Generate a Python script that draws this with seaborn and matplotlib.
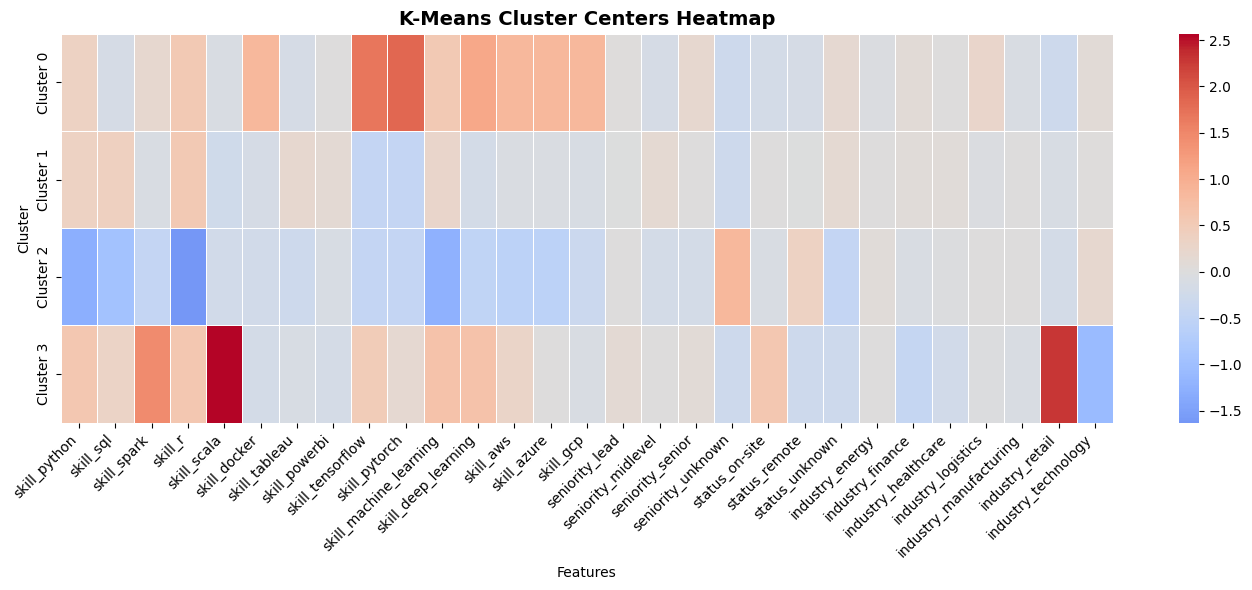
import numpy as np
import pandas as pd
import matplotlib
matplotlib.use('Agg')
import matplotlib.pyplot as plt
import seaborn as sns

# Feature names (columns of the cluster centers)
features = [
    'skill_python', 'skill_sql', 'skill_spark', 'skill_r', 'skill_scala',
    'skill_docker', 'skill_tableau', 'skill_powerbi', 'skill_tensorflow',
    'skill_pytorch', 'skill_machine_learning', 'skill_deep_learning',
    'skill_aws', 'skill_azure', 'skill_gcp', 'seniority_lead',
    'seniority_midlevel', 'seniority_senior', 'seniority_unknown',
    'status_on-site', 'status_remote', 'status_unknown', 'industry_energy',
    'industry_finance', 'industry_healthcare', 'industry_logistics',
    'industry_manufacturing', 'industry_retail', 'industry_technology',
]
clusters = ['Cluster 0', 'Cluster 1', 'Cluster 2', 'Cluster 3']

# Cluster centers
cluster0 = [0.35, -0.15, 0.20, 0.55, -0.10, 0.85, -0.15, 0.00, 1.70, 1.85,
            0.55, 1.10, 0.85, 0.85, 0.85, 0.03, -0.15, 0.18, -0.30, -0.20,
            -0.15, 0.17, -0.05, 0.10, 0.00, 0.25, -0.10, -0.30, 0.10]
cluster1 = [0.35, 0.40, -0.10, 0.55, -0.25, -0.15, 0.20, 0.13, -0.45, -0.45,
            0.25, -0.20, -0.07, -0.07, -0.12, -0.02, 0.15, 0.00, -0.30, 0.00,
            -0.02, 0.15, 0.00, 0.06, 0.06, -0.05, 0.01, -0.12, 0.04]
cluster2 = [-1.30, -0.95, -0.45, -1.63, -0.22, -0.22, -0.30, -0.12, -0.45, -0.45,
            -1.25, -0.50, -0.58, -0.58, -0.32, 0.00, -0.20, -0.20, 0.85, -0.10,
            0.35, -0.45, 0.07, -0.10, -0.03, 0.00, 0.01, -0.20, 0.20]
cluster3 = [0.60, 0.32, 1.45, 0.60, 2.57, -0.20, -0.12, -0.17, 0.50, 0.17,
            0.68, 0.68, 0.30, 0.00, -0.10, 0.13, 0.00, 0.10, -0.30, 0.60,
            -0.30, -0.30, 0.00, -0.42, -0.22, -0.03, -0.10, 2.30, -1.10]

centers = pd.DataFrame([cluster0, cluster1, cluster2, cluster3],
                       index=clusters, columns=features)

fig = plt.figure(figsize=(12.52, 5.9), dpi=100)
W, H = 1252, 590
ax = fig.add_axes([61 / W, (H - 422.7) / H, (1113 - 61) / W, (422.7 - 33.7) / H])
cax = fig.add_axes([1179 / W, (H - 422.7) / H, 20 / W, (422.7 - 33.7) / H])

sns.heatmap(centers, cmap='coolwarm', center=0, linewidths=0.5,
            linecolor='white', ax=ax, cbar_ax=cax)
ax.set_title('K-Means Cluster Centers Heatmap', fontsize=14, fontweight='bold')
ax.set_xlabel('Features')
ax.set_ylabel('Cluster')
plt.setp(ax.get_xticklabels(), rotation=45, ha='right')
fig.savefig('out.png', dpi=100)
